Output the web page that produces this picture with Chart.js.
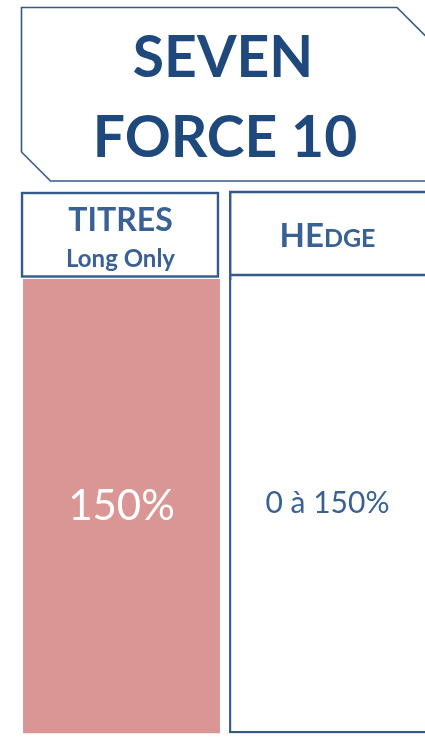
<!DOCTYPE html>
<html>
<head>
<meta charset="utf-8">
<script src="https://cdn.jsdelivr.net/npm/chart.js@4"></script>
<style>
  html, body { margin: 0; padding: 0; background: #fff; overflow: hidden; }
  .wrap { width: 440px; height: 747px; }
</style>
</head>
<body>
<div class="wrap"><canvas class="seven-chart" width="440" height="747"></canvas></div>
<script>
// seven force 10 - exposure chart

const titleLines = ["SEVEN", "FORCE 10"];
const categories = ["TITRES", "HEDGE"];
const subLabels = ["Long Only", ""];
const exposureMin = [0, 0];
const exposureMax = [150, 150];
const valueLabels = ["150%", "0 à 150%"];

const DARK_BLUE = "#1F497D";
const MID_BLUE = "#3A6194";
const LINE_BLUE = "#345A8A";

document.addEventListener("DOMContentLoaded", () => {
  const ctx = document.querySelector(".seven-chart").getContext("2d");

  // title box, header boxes and bar labels
  const decorations = {
    id: "decorations",
    afterDatasetsDraw(chart) {
      const c = chart.ctx;
      const area = chart.chartArea;
      const bars = chart.getDatasetMeta(0).data;
      const W = chart.width;

      c.save();
      // title polygon with cut corners
      c.strokeStyle = LINE_BLUE;
      c.lineWidth = 1.6;
      c.beginPath();
      c.moveTo(21.5, 152);
      c.lineTo(21.5, 7.5);
      c.lineTo(397, 7.5);
      c.lineTo(W, 50.5);
      c.stroke();
      c.beginPath();
      c.moveTo(21.5, 152);
      c.lineTo(50.5, 181);
      c.lineTo(W, 181);
      c.stroke();

      c.fillStyle = DARK_BLUE;
      c.textAlign = "center";
      c.textBaseline = "alphabetic";
      c.font = "bold 57px Lato";
      c.fillText(titleLines[0], 223, 77);
      c.fillText(titleLines[1], 225, 157);

      // header boxes above each bar
      bars.forEach((bar, i) => {
        const p = bar.getProps(["x", "y", "base", "width"], true);
        const left = p.x - p.width / 2;
        const right = p.x + p.width / 2;
        c.strokeStyle = LINE_BLUE;
        c.lineWidth = 2.4;
        if (i === 0) {
          c.strokeRect(left - 1, 193, right - left - 1, area.top - 2.5 - 193);
        } else {
          // hedge box runs off the right edge
          c.beginPath();
          c.moveTo(W, 192);
          c.lineTo(left + 1.2, 192);
          c.lineTo(left + 1.2, area.top + 1);
          c.moveTo(left + 1.2, 275);
          c.lineTo(W, 275);
          c.stroke();
        }

        c.fillStyle = MID_BLUE;
        if (i === 0) {
          c.font = "bold 32px Lato";
          c.fillText(categories[i], p.x - 1, 231);
          c.font = "bold 24px Lato";
          c.fillText(subLabels[i], p.x - 1, 267);
        } else {
          // small caps look: first two letters bigger
          const big = categories[i].slice(0, 2);
          const small = categories[i].slice(2);
          c.font = "bold 33px Lato";
          const wBig = c.measureText(big).width;
          c.font = "bold 25px Lato";
          const wSmall = c.measureText(small).width;
          const start = p.x - (wBig + wSmall) / 2;
          c.textAlign = "left";
          c.font = "bold 33px Lato";
          c.fillText(big, start, 247);
          c.font = "bold 25px Lato";
          c.fillText(small, start + wBig, 247);
          c.textAlign = "center";
        }

        // value label in the middle of the bar
        const mid = (p.y + p.base) / 2;
        if (i === 0) {
          c.fillStyle = "#FFFFFF";
          c.font = "42px Lato";
          c.fillText(valueLabels[i], p.x, mid + 14);
        } else {
          c.fillStyle = MID_BLUE;
          c.font = "30px Lato";
          c.fillText(valueLabels[i], p.x, mid + 7);
        }
      });
      c.restore();
    },
  };

  const data = {
    labels: categories,
    datasets: [
      {
        data: categories.map((_, i) => [exposureMin[i], exposureMax[i]]),
        backgroundColor: ["#DA9694", "#FFFFFF"],
        borderColor: ["#DA9694", LINE_BLUE],
        borderWidth: [0, { top: 0, right: 0, left: 2.4, bottom: 2.4 }],
        borderSkipped: false,
        barPercentage: 0.956,
        categoryPercentage: 1,
      },
    ],
  };

  const config = {
    type: "bar",
    data: data,
    options: {
      responsive: false,
      animation: false,
      devicePixelRatio: 1,
      layout: {
        padding: { left: 18.5, right: 9.5, top: 279, bottom: 13.5 },
      },
      scales: {
        x: { display: false },
        y: { display: false, min: 0, max: 150 },
      },
      plugins: {
        legend: { display: false },
        tooltip: { enabled: false },
      },
    },
    plugins: [decorations],
  };

  const sevenChart = new Chart(ctx, config);
});
</script>
</body>
</html>
